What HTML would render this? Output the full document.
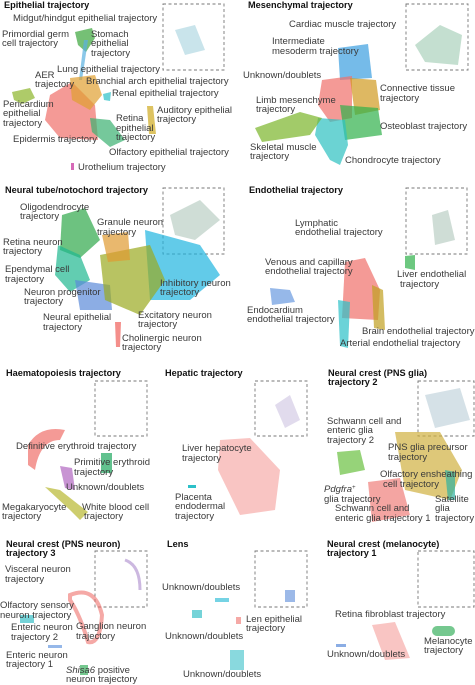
<!DOCTYPE html>
<html><head><meta charset="utf-8"><style>
html,body{margin:0;padding:0;background:#fff}
svg{display:block}
text{font-family:"Liberation Sans",sans-serif;font-size:9.5px;fill:#3a3a3a}
.t{font-weight:bold;font-size:9.2px;fill:#111}
.box{fill:none;stroke:#777;stroke-width:0.9;stroke-dasharray:3,2.5}
.b{opacity:0.7}
</style></head><body>
<svg width="475" height="685" viewBox="0 0 475 685">
<!-- Epithelial -->
<g>
<rect class="box" x="163" y="4" width="61" height="66"/>
<path d="M175 30 L195 25 L205 50 L185 55 Z" fill="#7bc" opacity="0.4"/>
<path class="b" d="M75 32 L92 28 L95 38 L86 52 L78 45 Z" fill="#3aa53a"/>
<path d="M84 40 L88 40 L82 80 L79 80 Z" fill="#5ab0e0" opacity="0.7"/>
<path class="b" d="M50 95 L72 82 L95 105 L98 140 L60 138 L45 120 Z" fill="#ef6f6a"/>
<path class="b" d="M70 78 L95 75 L102 95 L90 110 L72 100 Z" fill="#e0a030"/>
<path class="b" d="M90 118 L110 120 L125 140 L110 147 L92 132 Z" fill="#3bb070"/>
<path class="b" d="M12 92 L30 88 L35 98 L22 104 L14 100 Z" fill="#8cb52a"/>
<path class="b" d="M147 106 L153 106 L156 134 L149 134 Z" fill="#cfaa20"/>
<path class="b" d="M103 94 L111 92 L110 101 L104 100 Z" fill="#2ac0c8"/>
<rect x="71" y="163" width="3" height="7" fill="#d66ab8"/>
<text class="t" x="4" y="8">Epithelial trajectory</text>
<text x="13" y="21">Midgut/hindgut epithelial trajectory</text>
<text x="2" y="37">Primordial germ</text><text x="2" y="46">cell trajectory</text>
<text x="91" y="37">Stomach</text><text x="91" y="46">epithelial</text><text x="91" y="56">trajectory</text>
<text x="57" y="72">Lung epithelial trajectory</text>
<text x="35" y="78">AER</text><text x="35" y="87">trajectory</text>
<text x="86" y="84">Branchial arch epithelial trajectory</text>
<text x="112" y="96">Renal epithelial trajectory</text>
<text x="3" y="107">Pericardium</text><text x="3" y="116">epithelial</text><text x="3" y="126">trajectory</text>
<text x="116" y="121">Retina</text><text x="116" y="131">epithelial</text><text x="116" y="140">trajectory</text>
<text x="157" y="113">Auditory epithelial</text><text x="157" y="122">trajectory</text>
<text x="13" y="142">Epidermis trajectory</text>
<text x="109" y="155">Olfactory epithelial trajectory</text>
<text x="78" y="170">Urothelium trajectory</text>
</g>
<!-- Mesenchymal -->
<g>
<rect class="box" x="406" y="4" width="62" height="66"/>
<path d="M415 45 L440 25 L462 35 L458 65 L425 62 Z" fill="#6bb08a" opacity="0.4"/>
<path class="b" d="M338 48 L368 44 L372 78 L340 80 Z" fill="#3a9ee0"/>
<path class="b" d="M322 80 L352 76 L352 118 L330 122 L318 105 Z" fill="#ef6f6a"/>
<path class="b" d="M350 78 L376 80 L380 110 L355 115 Z" fill="#d09a20"/>
<path class="b" d="M340 105 L378 108 L382 135 L345 140 Z" fill="#2fb04a"/>
<path class="b" d="M318 118 L345 120 L348 145 L340 165 L330 160 L315 135 Z" fill="#2cc0c0"/>
<path class="b" d="M255 128 L300 112 L322 118 L310 135 L262 142 Z" fill="#7bb52a"/>
<text class="t" x="248" y="8">Mesenchymal trajectory</text>
<text x="289" y="27">Cardiac muscle trajectory</text>
<text x="272" y="44">Intermediate</text><text x="272" y="54">mesoderm trajectory</text>
<text x="243" y="78">Unknown/doublets</text>
<text x="380" y="91">Connective tissue</text><text x="380" y="101">trajectory</text>
<text x="256" y="103">Limb mesenchyme</text><text x="256" y="112">trajectory</text>
<text x="380" y="129">Osteoblast trajectory</text>
<text x="250" y="150">Skeletal muscle</text><text x="250" y="159">trajectory</text>
<text x="345" y="163">Chondrocyte trajectory</text>
</g>
<!-- Neural tube -->
<g>
<rect class="box" x="163" y="188" width="61" height="66"/>
<path d="M170 215 L200 200 L220 220 L195 240 L175 235 Z" fill="#8a9" opacity="0.4"/>
<path class="b" d="M62 215 L85 208 L100 240 L80 258 L60 250 Z" fill="#2fa84a"/>
<path class="b" d="M58 245 L80 255 L90 280 L70 292 L55 275 Z" fill="#20b890"/>
<path class="b" d="M75 280 L110 285 L112 310 L80 310 Z" fill="#5b8ad8"/>
<path class="b" d="M145 230 L200 245 L220 275 L190 300 L150 300 Z" fill="#20b5e0"/>
<path class="b" d="M100 255 L150 245 L165 280 L140 315 L105 300 Z" fill="#9aa920"/>
<path class="b" d="M102 235 L128 232 L130 260 L108 262 Z" fill="#e09a30"/>
<path class="b" d="M115 322 L121 322 L120 347 L116 347 Z" fill="#ef5f5a"/>
<text class="t" x="5" y="193">Neural tube/notochord trajectory</text>
<text x="20" y="210">Oligodendrocyte</text><text x="20" y="219">trajectory</text>
<text x="97" y="225">Granule neuron</text><text x="97" y="235">trajectory</text>
<text x="3" y="245">Retina neuron</text><text x="3" y="254">trajectory</text>
<text x="5" y="272">Ependymal cell</text><text x="5" y="282">trajectory</text>
<text x="24" y="295">Neuron progenitor</text><text x="24" y="304">trajectory</text>
<text x="160" y="286">Inhibitory neuron</text><text x="160" y="295">trajectory</text>
<text x="138" y="318">Excitatory neuron</text><text x="138" y="327">trajectory</text>
<text x="43" y="320">Neural epithelial</text><text x="43" y="330">trajectory</text>
<text x="122" y="341">Cholinergic neuron</text><text x="122" y="350">trajectory</text>
</g>
<!-- Endothelial -->
<g>
<rect class="box" x="406" y="188" width="61" height="66"/>
<path d="M432 215 L448 210 L455 240 L435 245 Z" fill="#8a9" opacity="0.4"/>
<path class="b" d="M345 262 L365 258 L380 290 L378 320 L342 318 Z" fill="#ef6f6a"/>
<path class="b" d="M338 300 L350 302 L348 348 L340 346 Z" fill="#2cc0c8"/>
<path class="b" d="M372 285 L383 290 L385 330 L374 328 Z" fill="#c0a020"/>
<path class="b" d="M405 256 L415 255 L415 270 L405 268 Z" fill="#2fb04a"/>
<path class="b" d="M270 288 L290 290 L295 302 L272 305 Z" fill="#6a9ae0"/>
<text class="t" x="249" y="193">Endothelial trajectory</text>
<text x="295" y="226">Lymphatic</text><text x="295" y="235">endothelial trajectory</text>
<text x="265" y="265">Venous and capillary</text><text x="265" y="274">endothelial trajectory</text>
<text x="397" y="277">Liver endothelial</text><text x="400" y="287">trajectory</text>
<text x="247" y="313">Endocardium</text><text x="247" y="322">endothelial trajectory</text>
<text x="362" y="334">Brain endothelial trajectory</text>
<text x="340" y="346">Arterial endothelial trajectory</text>
</g>
<!-- Haematopoiesis -->
<g>
<rect class="box" x="95" y="381" width="52" height="55"/>
<path class="b" d="M28 445 Q40 425 65 430 L60 440 Q40 440 35 470 L28 465 Z" fill="#ef6f6a"/>
<rect class="b" x="101" y="453" width="11" height="20" fill="#1fa860"/>
<path class="b" d="M60 466 L72 468 L75 490 L65 488 Z" fill="#b066c0"/>
<path class="b" d="M45 487 L60 490 L88 512 L80 520 L70 510 Z" fill="#b8b830"/>
<text class="t" x="6" y="376">Haematopoiesis trajectory</text>
<text x="16" y="449">Definitive erythroid trajectory</text>
<text x="74" y="465">Primitive erythroid</text><text x="74" y="475">trajectory</text>
<text x="66" y="490">Unknown/doublets</text>
<text x="2" y="510">Megakaryocyte</text><text x="2" y="519">trajectory</text>
<text x="82" y="510">White blood cell</text><text x="84" y="519">trajectory</text>
</g>
<!-- Hepatic -->
<g>
<rect class="box" x="255" y="381" width="52" height="55"/>
<path d="M275 405 L290 395 L300 420 L285 428 Z" fill="#a9c" opacity="0.35"/>
<path d="M220 440 L250 438 L280 470 L275 510 L240 515 L218 470 Z" fill="#ef6f6a" opacity="0.4"/>
<rect x="188" y="485" width="8" height="3" fill="#2cc0c8"/>
<text class="t" x="165" y="376">Hepatic trajectory</text>
<text x="182" y="451">Liver hepatocyte</text><text x="182" y="461">trajectory</text>
<text x="175" y="500">Placenta</text><text x="175" y="509">endodermal</text><text x="175" y="519">trajectory</text>
</g>
<!-- PNS glia -->
<g>
<rect class="box" x="418" y="381" width="56" height="55"/>
<path d="M425 395 L460 388 L470 420 L435 428 Z" fill="#8ab" opacity="0.35"/>
<path class="b" d="M395 432 L440 432 L462 470 L450 500 L405 490 Z" fill="#d0b040"/>
<path class="b" d="M337 452 L360 450 L365 470 L340 475 Z" fill="#6ac040"/>
<path class="b" d="M368 482 L400 478 L410 515 L372 522 Z" fill="#ef7f7a"/>
<path class="b" d="M445 470 L455 472 L455 500 L448 500 Z" fill="#30b0a0"/>
<text class="t" x="328" y="376">Neural crest (PNS glia)</text><text class="t" x="328" y="385">trajectory 2</text>
<text x="327" y="424">Schwann cell and</text><text x="327" y="433">enteric glia</text><text x="327" y="443">trajectory 2</text>
<text x="388" y="450">PNS glia precursor</text><text x="388" y="460">trajectory</text>
<text x="380" y="477">Olfactory ensheathing</text><text x="383" y="487">cell trajectory</text>
<text x="324" y="492" font-style="italic">Pdgfra<tspan font-size="6" dy="-3">+</tspan></text><text x="324" y="502">glia trajectory</text>
<text x="335" y="511">Schwann cell and</text><text x="335" y="521">enteric glia trajectory 1</text>
<text x="435" y="502">Satellite</text><text x="435" y="511">glia</text><text x="435" y="521">trajectory</text>
</g>
<!-- PNS neuron -->
<g>
<rect class="box" x="95" y="551" width="52" height="56"/>
<path d="M125 560 Q140 565 140 590" stroke="#a8c" stroke-width="3" fill="none" opacity="0.6"/>
<path d="M70 595 Q95 585 102 615 Q100 645 88 642 Q80 615 70 600 Z" fill="none" stroke="#ef6f6a" stroke-width="4" opacity="0.6"/>
<rect class="b" x="20" y="615" width="14" height="8" fill="#3ac0c8"/>
<rect class="b" x="48" y="645" width="14" height="3" fill="#6a9ae0"/>
<rect class="b" x="80" y="665" width="8" height="10" fill="#3ab060"/>
<text class="t" x="6" y="547">Neural crest (PNS neuron)</text><text class="t" x="6" y="556">trajectory 3</text>
<text x="5" y="572">Visceral neuron</text><text x="5" y="582">trajectory</text>
<text x="0" y="608">Olfactory sensory</text><text x="0" y="618">neuron trajectory</text>
<text x="11" y="630">Enteric neuron</text><text x="11" y="640">trajectory 2</text>
<text x="76" y="629">Ganglion neuron</text><text x="76" y="639">trajectory</text>
<text x="6" y="658">Enteric neuron</text><text x="6" y="667">trajectory 1</text>
<text x="66" y="673"><tspan font-style="italic">Shisa6</tspan> positive</text><text x="66" y="682">neuron trajectory</text>
</g>
<!-- Lens -->
<g>
<rect class="box" x="255" y="551" width="52" height="56"/>
<rect x="285" y="590" width="10" height="12" fill="#5a8ad8" opacity="0.6"/>
<rect x="215" y="598" width="14" height="4" fill="#3ac0d8" opacity="0.7"/>
<rect x="192" y="610" width="10" height="8" fill="#3ac0c8" opacity="0.7"/>
<rect x="236" y="617" width="5" height="7" fill="#ef6f6a" opacity="0.6"/>
<rect x="230" y="650" width="14" height="20" fill="#3ac0c8" opacity="0.6"/>
<text class="t" x="167" y="547">Lens</text>
<text x="162" y="590">Unknown/doublets</text>
<text x="165" y="639">Unknown/doublets</text>
<text x="183" y="677">Unknown/doublets</text>
<text x="246" y="622">Len epithelial</text><text x="246" y="631">trajectory</text>
</g>
<!-- Melanocyte -->
<g>
<rect class="box" x="418" y="551" width="56" height="56"/>
<path d="M372 625 L395 622 L410 658 L385 660 Z" fill="#ef6f6a" opacity="0.4"/>
<rect class="b" x="432" y="626" width="23" height="10" rx="5" fill="#3ab060"/>
<rect class="b" x="336" y="644" width="10" height="3" fill="#5a8ad8"/>
<text class="t" x="327" y="547">Neural crest (melanocyte)</text><text class="t" x="327" y="556">trajectory 1</text>
<text x="335" y="617">Retina fibroblast trajectory</text>
<text x="327" y="657">Unknown/doublets</text>
<text x="424" y="644">Melanocyte</text><text x="424" y="653">trajectory</text>
</g>
</svg>
</body></html>
